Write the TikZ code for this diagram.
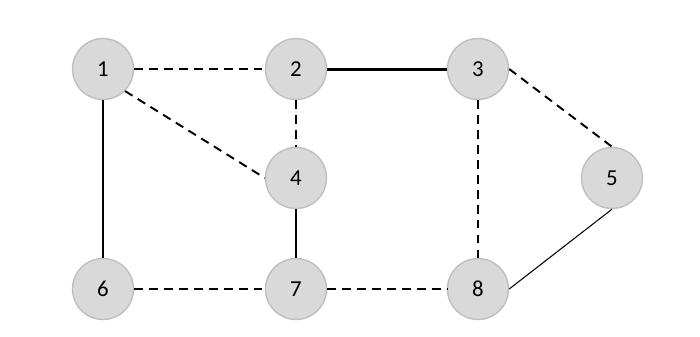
\documentclass[tikz,border=0pt]{standalone}
\usepackage{fontspec}
\setmainfont{Carlito}
\usepackage{xcolor}
\usetikzlibrary{positioning}
\definecolor{vfill}{HTML}{D9D9D9}
\definecolor{vdraw}{HTML}{BFBFBF}

\begin{document}
\begin{tikzpicture}[x=0.02cm, y=-0.02cm,
  vx/.style={circle, draw=vdraw, line width=0.8pt, fill=vfill, minimum size=1.22cm, inner sep=0pt, font=\fontsize{13}{15}\selectfont},
  dsh/.style={line width=1.1pt, dash pattern=on 5pt off 3.5pt},
  thk/.style={line width=1.7pt}, thn/.style={line width=0.6pt}]
\useasboundingbox (0,0) rectangle (700,336);
\node[vx] (v1) at (103,69) {1};
\node[vx] (v2) at (296,69) {2};
\node[vx] (v3) at (478,69) {3};
\node[vx] (v4) at (296,178) {4};
\node[vx] (v5) at (612,178) {5};
\node[vx] (v6) at (103,289) {6};
\node[vx] (v7) at (296,289) {7};
\node[vx] (v8) at (478,289) {8};
\draw[dsh] (v1) -- (v2); \draw[thk] (v2) -- (v3); \draw[dsh] (v3.east) -- (v5.north);
\draw[dsh] (v1.south east) -- (v4.west); \draw[dsh] (v2) -- (v4); \draw[dsh] (v3) -- (v8);
\draw[thk] (v1) -- (v6); \draw[thk] (v4) -- (v7);
\draw[dsh] (v6) -- (v7); \draw[dsh] (v7) -- (v8); \draw[thn] (v8.east) -- (v5.south);
\end{tikzpicture}
\end{document}
